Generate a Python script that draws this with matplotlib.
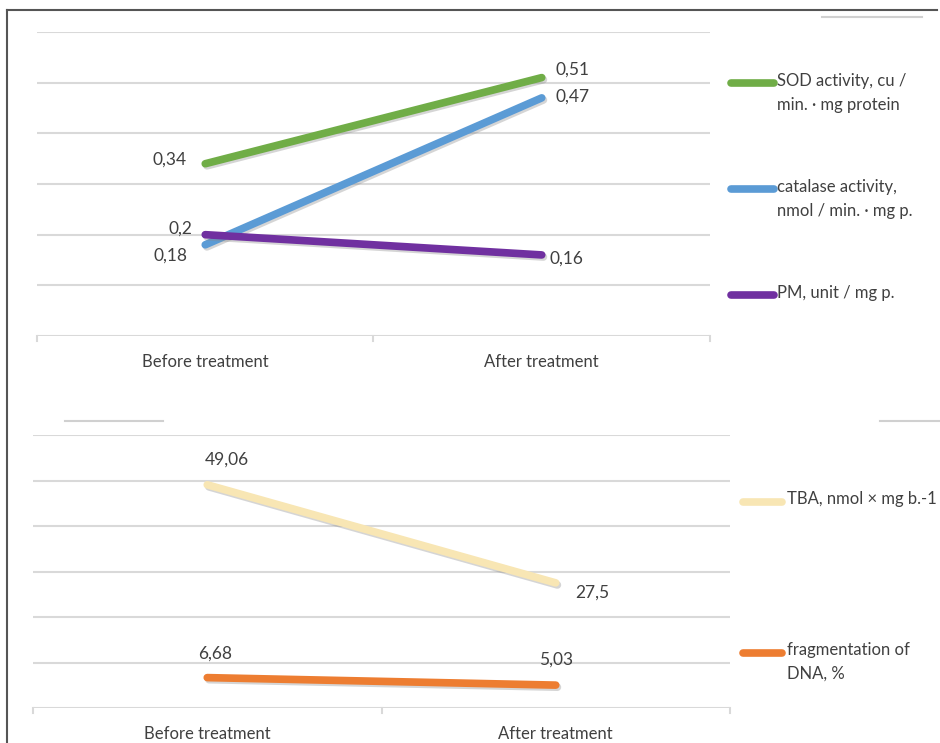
import matplotlib.pyplot as plt
from matplotlib.lines import Line2D
import matplotlib.patheffects as pe

plt.rcParams['font.family'] = ['Lato', 'DejaVu Sans']

# Data
categories = ['Before treatment', 'After treatment']

top_names = ['SOD activity, cu /\nmin. · mg protein',
             'catalase activity,\nnmol / min. · mg p.',
             'PM, unit / mg p.']
sod = [0.34, 0.51]
catalase = [0.18, 0.47]
pm = [0.2, 0.16]

bottom_names = ['TBA, nmol × mg b.-1', 'fragmentation of\nDNA, %']
tba = [49.06, 27.5]
dna = [6.68, 5.03]

W, H = 940, 743
fig = plt.figure(figsize=(W / 100, H / 100), dpi=100)

def px_axes(x0, y_top, x1, y_bot):
    return fig.add_axes([x0 / W, 1 - y_bot / H, (x1 - x0) / W, (y_bot - y_top) / H])

GRID = '#d9d9d9'
TXT = '#404040'
shadow = [pe.SimpleLineShadow(offset=(1.2, -1.5), shadow_color='#888888', alpha=0.35),
          pe.Normal()]

def style_axes(ax, ymax, step):
    ax.set_xlim(-0.5, 1.5)
    ax.set_ylim(0, ymax)
    for s in ax.spines.values():
        s.set_visible(False)
    k = step
    while k <= ymax + 1e-9:
        ax.axhline(k, color=GRID, lw=1.5, zorder=0)
        k += step
    ax.axhline(0, color=GRID, lw=1.5, zorder=0)
    ax.set_yticks([])
    ax.set_xticks([0, 1])
    ax.set_xticklabels(categories, fontsize=12, color=TXT)
    ax.tick_params(axis='x', length=0, pad=13)
    for xb in (-0.5, 0.5, 1.5):
        ax.plot([xb, xb], [0, -0.018 * ymax], color=GRID, lw=1.5, clip_on=False)

x = [0, 1]

# ---- upper chart ----
ax1 = px_axes(37, 32, 710, 336)
style_axes(ax1, 0.6, 0.1)
top_series = [(sod, '#70ad47'), (catalase, '#5b9bd5'), (pm, '#7030a0')]
for vals, c in top_series:
    ax1.plot(x, vals, color=c, lw=5.5, solid_capstyle='round', path_effects=shadow, zorder=3)

def lab(ax, xi, yi, txt, dx, dy):
    ax.annotate(txt, (xi, yi), xytext=(dx, dy), textcoords='offset points',
                ha='center', va='center', fontsize=12.5, color=TXT)

fmt = lambda v: ('%g' % v).replace('.', ',')
lab(ax1, 0, sod[0], fmt(sod[0]), -26, 3)
lab(ax1, 1, sod[1], fmt(sod[1]), 22, 6)
lab(ax1, 1, catalase[1], fmt(catalase[1]), 22, 1)
lab(ax1, 0, pm[0], fmt(pm[0]), -18, 4)
lab(ax1, 0, catalase[0], fmt(catalase[0]), -25, -8)
lab(ax1, 1, pm[1], fmt(pm[1]), 18, -3)

# legend (upper)
leg_y = [83, 189, 295]
for (vals, c), name, ly in zip(top_series, top_names, leg_y):
    fig.add_artist(Line2D([731 / W, 774 / W], [1 - ly / H] * 2, color=c, lw=5.5,
                          solid_capstyle='round'))
    fig.text(777 / W, 1 - (ly - 10) / H, name, fontsize=12, color=TXT,
             ha='left', va='top', linespacing=1.6)

# ---- lower chart ----
ax2 = px_axes(33, 435, 730, 708)
style_axes(ax2, 60, 10)
bottom_series = [(tba, '#f8e6b4'), (dna, '#ed7d31')]
for vals, c in bottom_series:
    ax2.plot(x, vals, color=c, lw=5.5, solid_capstyle='round', path_effects=shadow, zorder=3)
lab(ax2, 0, tba[0], fmt(tba[0]), 14, 18)
lab(ax2, 1, tba[1], fmt(tba[1]), 26, -7)
lab(ax2, 0, dna[0], fmt(dna[0]), 6, 17)
lab(ax2, 1, dna[1], fmt(dna[1]), 0, 18)

leg_y2 = [502, 653]
for (vals, c), name, ly in zip(bottom_series, bottom_names, leg_y2):
    fig.add_artist(Line2D([743 / W, 782 / W], [1 - ly / H] * 2, color=c, lw=5.5,
                          solid_capstyle='round'))
    fig.text(787 / W, 1 - (ly - 11) / H, name, fontsize=12, color=TXT,
             ha='left', va='top', linespacing=1.6)

# outer frame and stray edges
fig.add_artist(Line2D([7 / W, 7 / W], [0, 1 - 10 / H], color='#555555', lw=1.5))
fig.add_artist(Line2D([7 / W, 937 / W], [1 - 10 / H] * 2, color='#555555', lw=1.5))
for xa, xb, yy in [(822, 922, 17), (65, 163, 421), (880, 940, 421)]:
    fig.add_artist(Line2D([xa / W, xb / W], [1 - yy / H] * 2, color='#d0d0d0', lw=1.5))

fig.savefig('out.png', dpi=100, facecolor='white')
